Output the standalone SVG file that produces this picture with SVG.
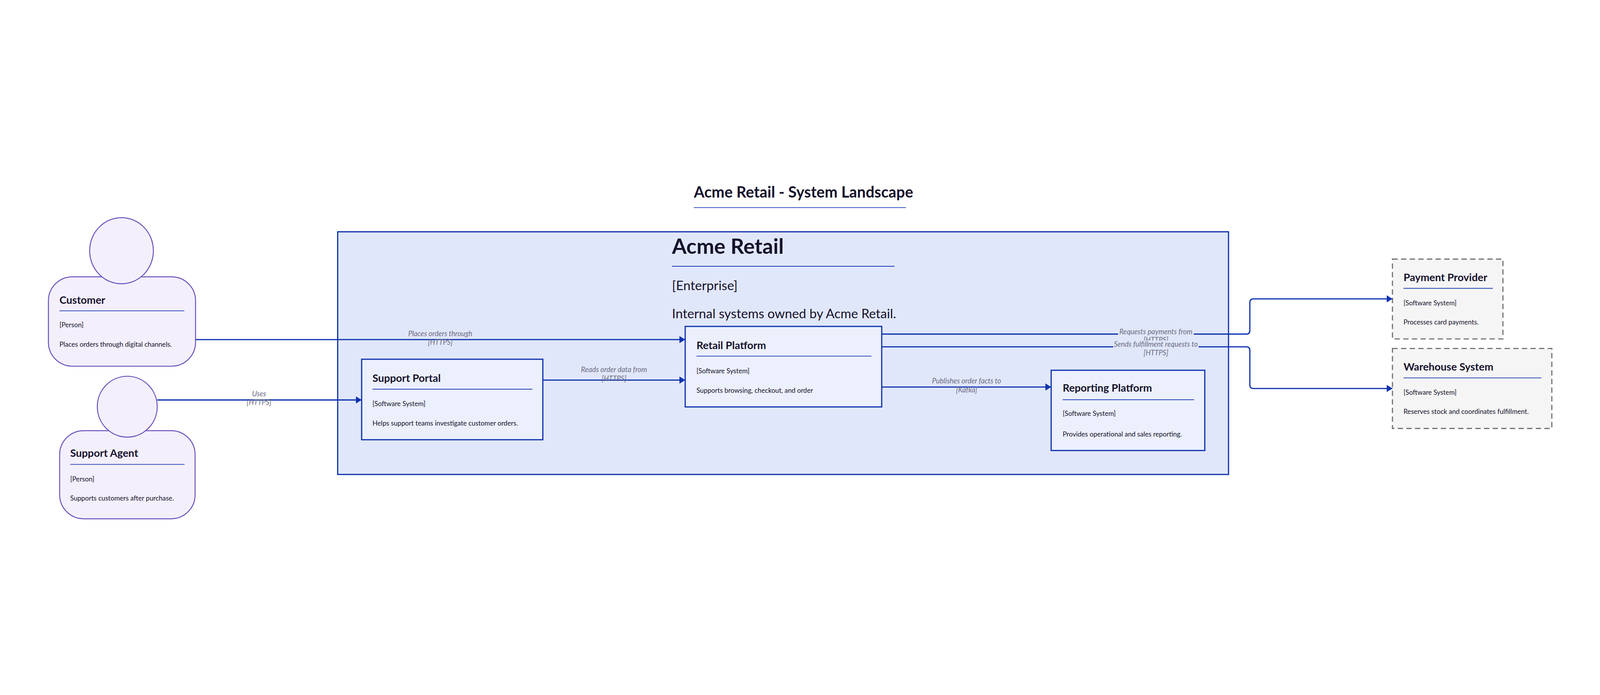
<svg xmlns="http://www.w3.org/2000/svg" width="6676" height="1780" viewBox="0 0 6676 1780" style="width:100vw;height:100vh;display:block">
<style>
text{font-family:Lato,"Noto Sans","Liberation Sans",sans-serif;fill:#15122b}
.t{font-size:44px;font-weight:bold}
.m{font-size:28px}
.d{font-size:28px}
.ul{stroke:#1a3bb3;stroke-width:3}
.person{fill:#f3effc;stroke:#6b4fbb;stroke-width:4}
.sys{fill:#ecf0fc;stroke:#0f33b0;stroke-width:5}
.ext{fill:#f5f5f5;stroke:#777;stroke-width:5;stroke-dasharray:22 14}
.c{fill:none;stroke:#0f33b0;stroke-width:5}
.lbl{font-size:30px;font-style:italic;fill:#6b6b80;text-anchor:middle}
.lb{fill:#e1e7fa}
</style>
<defs><marker id="ah" viewBox="0 0 10 10" refX="10" refY="5" markerWidth="24" markerHeight="30" orient="auto" markerUnits="userSpaceOnUse" preserveAspectRatio="none"><path d="M0,0L10,5L0,10z" fill="#0f33b0"/></marker></defs>
<rect width="6676" height="1780" fill="#fff"/>
<g id="title"><text x="2895" y="264" style="font-size:64px;font-weight:bold">Acme Retail - System Landscape</text><line class="ul" x1="2895" y1="306" x2="3780" y2="306"/></g>
<g id="enterprise"><rect x="1409" y="407" width="3717" height="1013" fill="#e1e7fa" stroke="#0f33b0" stroke-width="5"/>
<text x="2804" y="499" style="font-size:88px;font-weight:bold">Acme Retail</text><line class="ul" x1="2804" y1="551" x2="3732" y2="551"/>
<text x="2804" y="650" style="font-size:54px">[Enterprise]</text>
<text x="2804" y="767" style="font-size:54px">Internal systems owned by Acme Retail.</text></g>
<g id="customer"><rect class="person" x="202" y="595" width="614" height="373" rx="100"/><ellipse class="person" cx="507" cy="486" rx="133" ry="138"/>
<text class="t" x="248" y="707">Customer</text><line class="ul" x1="248" y1="737" x2="769" y2="737"/><text class="m" x="248" y="806">[Person]</text><text class="d" x="248" y="887">Places orders through digital channels.</text></g>
<g id="support-agent"><rect class="person" x="249" y="1237" width="565" height="368" rx="100"/><ellipse class="person" cx="531" cy="1137" rx="125" ry="127"/>
<text class="t" x="293" y="1346">Support Agent</text><line class="ul" x1="293" y1="1378" x2="770" y2="1378"/><text class="m" x="293" y="1449">[Person]</text><text class="d" x="293" y="1529">Supports customers after purchase.</text></g>
<g id="support-portal"><rect class="sys" x="1509" y="939" width="756" height="336"/>
<text class="t" x="1554" y="1034">Support Portal</text><line class="ul" x1="1554" y1="1064" x2="2221" y2="1064"/><text class="m" x="1554" y="1134">[Software System]</text><text class="d" x="1554" y="1216">Helps support teams investigate customer orders.</text></g>
<g id="retail-platform"><rect class="sys" x="2859" y="802" width="820" height="336"/>
<text class="t" x="2906" y="896">Retail Platform</text><line class="ul" x1="2906" y1="926" x2="3636" y2="926"/><text class="m" x="2906" y="998">[Software System]</text><text class="d" x="2906" y="1079">Supports browsing, checkout, and order</text></g>
<g id="reporting-platform"><rect class="sys" x="4386" y="985" width="641" height="335"/>
<text class="t" x="4434" y="1074">Reporting Platform</text><line class="ul" x1="4434" y1="1108" x2="4982" y2="1108"/><text class="m" x="4434" y="1176">[Software System]</text><text class="d" x="4434" y="1261">Provides operational and sales reporting.</text></g>
<g id="payment-provider"><rect class="ext" x="5810" y="521" width="461" height="333"/>
<text class="t" x="5856" y="613">Payment Provider</text><line class="ul" x1="5856" y1="643" x2="6229" y2="643"/><text class="m" x="5856" y="714">[Software System]</text><text class="d" x="5856" y="794">Processes card payments.</text></g>
<g id="warehouse-system"><rect class="ext" x="5810" y="894" width="665" height="334"/>
<text class="t" x="5856" y="986">Warehouse System</text><line class="ul" x1="5856" y1="1017" x2="6432" y2="1017"/><text class="m" x="5856" y="1087">[Software System]</text><text class="d" x="5856" y="1167">Reserves stock and coordinates fulfillment.</text></g>
<g id="connectors">
<path class="c" d="M816,857H2859" marker-end="url(#ah)"/>
<path class="c" d="M656,1109H1509" marker-end="url(#ah)"/>
<path class="c" d="M2265,1026H2859" marker-end="url(#ah)"/>
<path class="c" d="M3679,1055H4386" marker-end="url(#ah)"/>
<path class="c" d="M3679,834H5200Q5215,834 5215,819V702Q5215,687 5230,687H5810" marker-end="url(#ah)"/>
<path class="c" d="M3679,887H5200Q5215,887 5215,902V1046Q5215,1061 5230,1061H5810" marker-end="url(#ah)"/>
<rect x="1700" y="818" width="276" height="34" class="lb"/>
<text class="lbl" x="1837" y="843">Places orders through</text><text class="lbl" x="1837" y="879">[HTTPS]</text>
<rect x="1025" y="1068" width="112" height="34" fill="#fff"/>
<text class="lbl" x="1081" y="1093">Uses</text><text class="lbl" x="1081" y="1129">[HTTPS]</text>
<rect x="2425" y="968" width="274" height="34" class="lb"/>
<text class="lbl" x="2562" y="993">Reads order data from</text><text class="lbl" x="2562" y="1030">[HTTPS]</text>
<rect x="3880" y="1015" width="306" height="34" class="lb"/>
<text class="lbl" x="4033" y="1040">Publishes order facts to</text><text class="lbl" x="4033" y="1077">[Kafka]</text>
<rect x="4665" y="809" width="316" height="34" class="lb"/>
<text class="lbl" x="4823" y="834">Requests payments from</text><text class="lbl" x="4823" y="869">[HTTPS]</text>
<rect x="4645" y="861" width="356" height="34" class="lb"/>
<text class="lbl" x="4823" y="886">Sends fulfillment requests to</text><text class="lbl" x="4823" y="923">[HTTPS]</text>
</g>
</svg>
